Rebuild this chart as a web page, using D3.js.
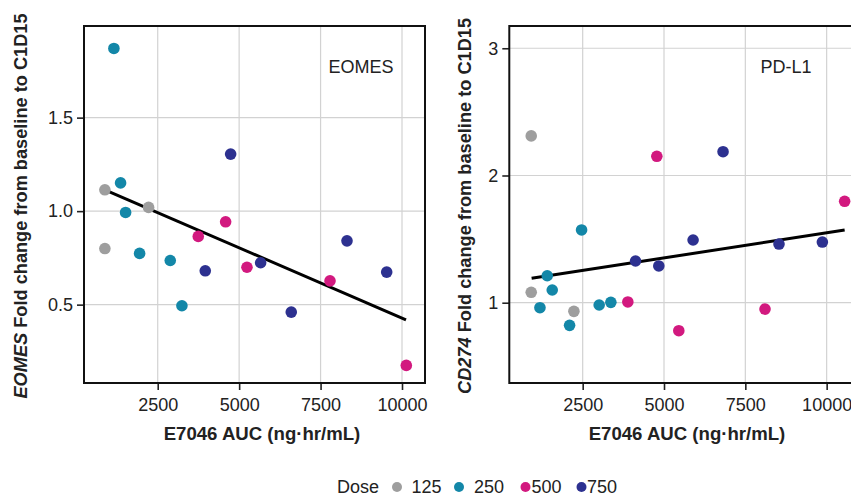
<!DOCTYPE html>
<html>
<head>
<meta charset="utf-8">
<script src="https://cdn.jsdelivr.net/npm/d3@7"></script>
<style>
  body { margin: 0; background: #fff; }
  text { font-family: "Liberation Sans", Arial, sans-serif; }
</style>
</head>
<body>
<div id="chart"></div>
<script>
// data
const doses = ["125", "250", "500", "750"];
const doseColors = ["#9e9e9e", "#1387a8", "#d2197f", "#2d3190"];

// EOMES panel: [auc, fold change, dose]
const eomesPoints = [
  [1155, 1.870, "250"], [1360, 1.151, "250"], [878, 1.114, "125"], [1514, 0.993, "250"],
  [2220, 1.020, "125"], [4739, 1.305, "750"], [4585, 0.943, "500"], [3745, 0.865, "500"],
  [878, 0.800, "125"], [1944, 0.774, "250"], [2885, 0.736, "250"], [3960, 0.681, "750"],
  [5240, 0.700, "500"], [5660, 0.724, "750"], [8311, 0.841, "750"], [7789, 0.627, "500"],
  [9530, 0.674, "750"], [3243, 0.494, "250"], [6600, 0.460, "750"], [10132, 0.175, "500"]
];
const eomesFit = [[878, 1.114], [10123, 0.419]];

// PD-L1 panel
const pdl1Points = [
  [918, 2.311, "125"], [4779, 2.151, "500"], [6815, 2.187, "750"], [10553, 1.797, "500"],
  [2466, 1.572, "250"], [5894, 1.493, "750"], [8535, 1.461, "750"], [9868, 1.477, "750"],
  [4125, 1.328, "750"], [4840, 1.289, "750"], [1410, 1.212, "250"], [1564, 1.100, "250"],
  [918, 1.082, "125"], [1186, 0.961, "250"], [2230, 0.932, "125"], [3007, 0.982, "250"],
  [3366, 1.003, "250"], [3888, 1.006, "500"], [2097, 0.822, "250"], [5455, 0.780, "500"],
  [8105, 0.950, "500"]
];
const pdl1Fit = [[930, 1.192], [10553, 1.571]];

const xTicks = [2500, 5000, 7500, 10000];
const eomesTicks = [0.5, 1.0, 1.5];
const pdl1Ticks = [1, 2, 3];

const width = 851, height = 499;
const svg = d3.select("#chart").append("svg")
  .attr("width", width).attr("height", height);

const color = d3.scaleOrdinal().domain(doses).range(doseColors);

function panel(opt) {
  const x = d3.scaleLinear().domain(opt.xDomain).range([opt.left, opt.right]);
  const y = d3.scaleLinear().domain(opt.yDomain).range([383, 26]);
  const g = svg.append("g");

  // grid
  g.selectAll(".gx").data(xTicks).enter().append("line")
    .attr("x1", d => x(d)).attr("x2", d => x(d))
    .attr("y1", 26).attr("y2", 383)
    .attr("stroke", "#d2d2d2").attr("stroke-width", 1.2);
  g.selectAll(".gy").data(opt.yTicks).enter().append("line")
    .attr("x1", opt.left).attr("x2", opt.right)
    .attr("y1", d => y(d)).attr("y2", d => y(d))
    .attr("stroke", "#d2d2d2").attr("stroke-width", 1.2);

  // axes
  const ax = g.append("g").attr("transform", "translate(0,383)")
    .call(d3.axisBottom(x).tickValues(xTicks).tickFormat(d3.format("d")).tickSize(7).tickPadding(8));
  const ay = g.append("g").attr("transform", "translate(" + opt.left + ",0)")
    .call(d3.axisLeft(y).tickValues(opt.yTicks).tickFormat(opt.yFormat).tickSize(7).tickPadding(4));
  [ax, ay].forEach(a => {
    a.select(".domain").remove();
    a.selectAll("line").attr("stroke", "#222").attr("stroke-width", 1.6);
    a.selectAll("text").attr("font-size", 18).attr("fill", "#222");
  });

  // frame
  g.append("rect")
    .attr("x", opt.left).attr("y", 26)
    .attr("width", opt.right - opt.left).attr("height", 383 - 26)
    .attr("fill", "none").attr("stroke", "#111").attr("stroke-width", 2);

  // fit line
  g.append("path")
    .datum(opt.fit)
    .attr("d", d3.line().x(d => x(d[0])).y(d => y(d[1])))
    .attr("stroke", "#000").attr("stroke-width", 3).attr("fill", "none");

  // points
  g.selectAll("circle").data(opt.points).enter().append("circle")
    .attr("cx", d => x(d[0])).attr("cy", d => y(d[1]))
    .attr("r", 5.8).attr("fill", d => color(d[2]));

  // gene label
  g.append("text").attr("x", opt.labelX).attr("y", 73)
    .attr("text-anchor", "middle").attr("font-size", 18).attr("fill", "#222")
    .text(opt.label);

  // x title
  g.append("text").attr("x", opt.xTitleX).attr("y", 440)
    .attr("text-anchor", "middle").attr("font-size", 18.6).attr("font-weight", "bold").attr("fill", "#222")
    .text("E7046 AUC (ng·hr/mL)");

  // y title
  const yt = g.append("text")
    .attr("transform", "translate(" + opt.yTitleX + ",206) rotate(-90)")
    .attr("text-anchor", "middle").attr("font-size", 18.2).attr("font-weight", "bold").attr("fill", "#222");
  yt.append("tspan").attr("font-style", "italic").text(opt.gene);
  yt.append("tspan").text(" Fold change from baseline to C1D15");
}

panel({
  left: 84, right: 425, xDomain: [237, 10706], yDomain: [0.081, 1.99],
  yTicks: eomesTicks, yFormat: d3.format(".1f"), points: eomesPoints, fit: eomesFit,
  label: "EOMES", labelX: 361, xTitleX: 262, yTitleX: 27, gene: "EOMES"
});
panel({
  left: 509.3, right: 853, xDomain: [244, 10810], yDomain: [0.369, 3.175],
  yTicks: pdl1Ticks, yFormat: d3.format("d"), points: pdl1Points, fit: pdl1Fit,
  label: "PD-L1", labelX: 786, xTitleX: 687, yTitleX: 471, gene: "CD274"
});

// legend
const legend = svg.append("g");
legend.append("text").attr("x", 337).attr("y", 493)
  .attr("font-size", 18).attr("fill", "#222").text("Dose");
const legendDotX = [397, 459, 525.5, 581.5];
const legendTextX = [411.5, 474, 531.5, 587];
doses.forEach((d, i) => {
  legend.append("circle").attr("cx", legendDotX[i]).attr("cy", 487)
    .attr("r", 5).attr("fill", color(d));
  legend.append("text").attr("x", legendTextX[i]).attr("y", 493)
    .attr("font-size", 18).attr("fill", "#222").text(d);
});
</script>
</body>
</html>
